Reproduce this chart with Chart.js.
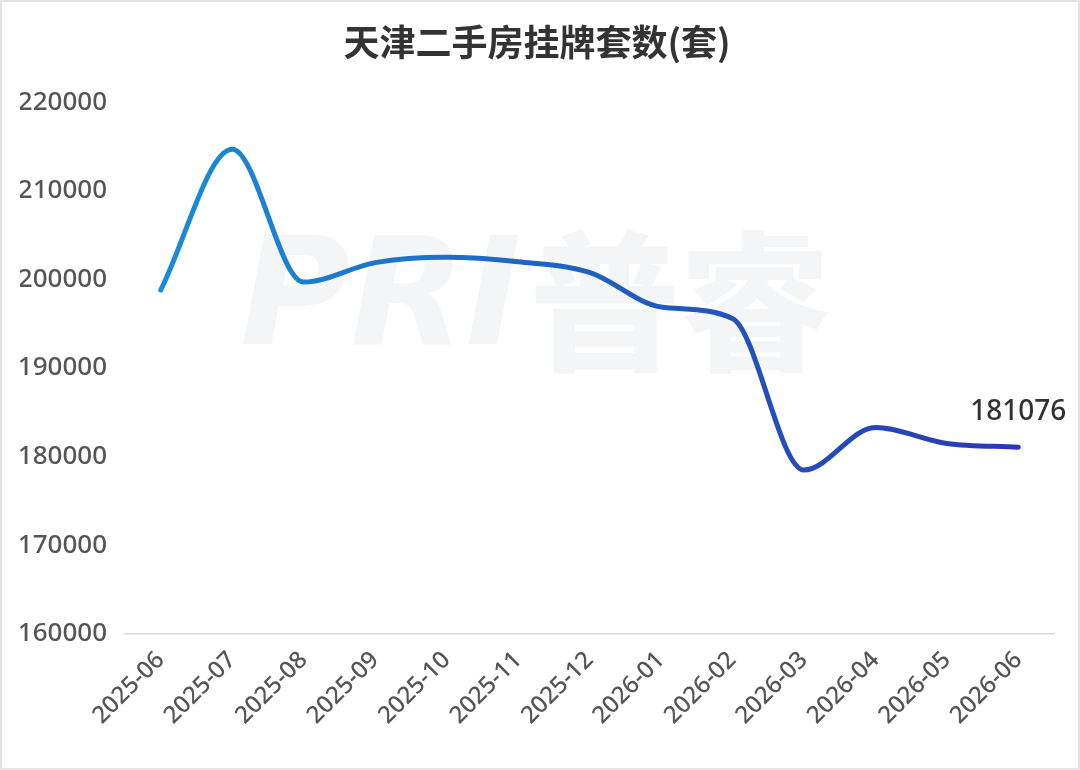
<!DOCTYPE html>
<html><head><meta charset="utf-8">
<script src="https://cdn.jsdelivr.net/npm/chart.js@4"></script>
<style>
html,body{margin:0;padding:0;background:#fff;}
#wrap{width:1080px;height:770px;box-sizing:border-box;border:2px solid #e4e4e4;position:relative;}
canvas{display:block;}
</style></head><body>
<div id="wrap"><canvas id="c" width="1076" height="766"></canvas></div>
<script>
const categories = ['2025-06','2025-07','2025-08','2025-09','2025-10','2025-11','2025-12','2026-01','2026-02','2026-03','2026-04','2026-05','2026-06'];
const listings = [198800, 214700, 199700, 201900, 202500, 202000, 200800, 196900, 195600, 178500, 183300, 181500, 181076];
const yTicks = [160000, 170000, 180000, 190000, 200000, 210000, 220000];
const titleText = '天津二手房挂牌套数(套)';
const watermarkText = ['PRI', '普睿'];

const watermark = {
  id: 'watermark',
  beforeDatasetsDraw(chart) {
    const ctx = chart.ctx;
    ctx.save();
    ctx.fillStyle = '#f3f5f7';
    ctx.textBaseline = 'middle';
    ctx.textAlign = 'left';
    ctx.font = 'italic 900 150px "DejaVu Sans", sans-serif';
    ctx.fillText(watermarkText[0], 238, 303);
    ctx.font = '900 150px "Noto Sans CJK SC", sans-serif';
    ctx.fillText(watermarkText[1], 528, 300);
    ctx.restore();
  }
};

const lastLabel = {
  id: 'lastLabel',
  afterDatasetsDraw(chart) {
    const meta = chart.getDatasetMeta(0);
    const pt = meta.data[meta.data.length - 1];
    const ctx = chart.ctx;
    ctx.save();
    ctx.font = '500 28px "Noto Sans", sans-serif';
    ctx.fillStyle = '#333';
    ctx.textAlign = 'center';
    ctx.textBaseline = 'bottom';
    ctx.fillText(String(listings[listings.length - 1]), pt.x, pt.y - 21);
    ctx.restore();
  }
};

new Chart(document.getElementById('c'), {
  type: 'line',
  data: {
    labels: categories,
    datasets: [{
      data: listings,
      borderWidth: 5,
      pointRadius: 0,
      fill: false,
      cubicInterpolationMode: 'monotone',
      borderCapStyle: 'round',
      borderColor(ctx) {
        const ca = ctx.chart.chartArea;
        if (!ca) return '#1f6fc8';
        const g = ctx.chart.ctx.createLinearGradient(ca.left, 0, ca.right, 0);
        g.addColorStop(0, '#1a90d8');
        g.addColorStop(0.5, '#1f60c0');
        g.addColorStop(1, '#2b35b3');
        return g;
      }
    }]
  },
  options: {
    responsive: false,
    animation: false,
    layout: { padding: { left: 18, right: 24, top: 0, bottom: 26 } },
    plugins: {
      legend: { display: false },
      tooltip: { enabled: false },
      title: {
        display: true,
        text: titleText,
        color: '#333',
        font: { family: '"Noto Sans CJK SC", sans-serif', size: 36, weight: 'bold' },
        padding: { top: 19, bottom: 38 }
      }
    },
    scales: {
      x: {
        offset: true,
        grid: { display: false, drawTicks: false },
        border: { display: true, color: '#d9d9d9', width: 1.5 },
        ticks: {
          color: '#555',
          maxRotation: 45, minRotation: 45,
          font: { family: '"Noto Sans", sans-serif', size: 24, weight: 500 },
          padding: 12
        }
      },
      y: {
        min: 160000, max: 220000,
        afterBuildTicks(axis) { axis.ticks = yTicks.map(v => ({ value: v })); },
        afterFit(axis) { axis.width = 105; },
        grid: { display: false, drawTicks: false },
        border: { display: false },
        ticks: {
          color: '#555',
          padding: 18,
          font: { family: '"Noto Sans", sans-serif', size: 26, weight: 500 },
          callback: v => String(v)
        }
      }
    }
  },
  plugins: [watermark, lastLabel]
});
</script></body></html>
